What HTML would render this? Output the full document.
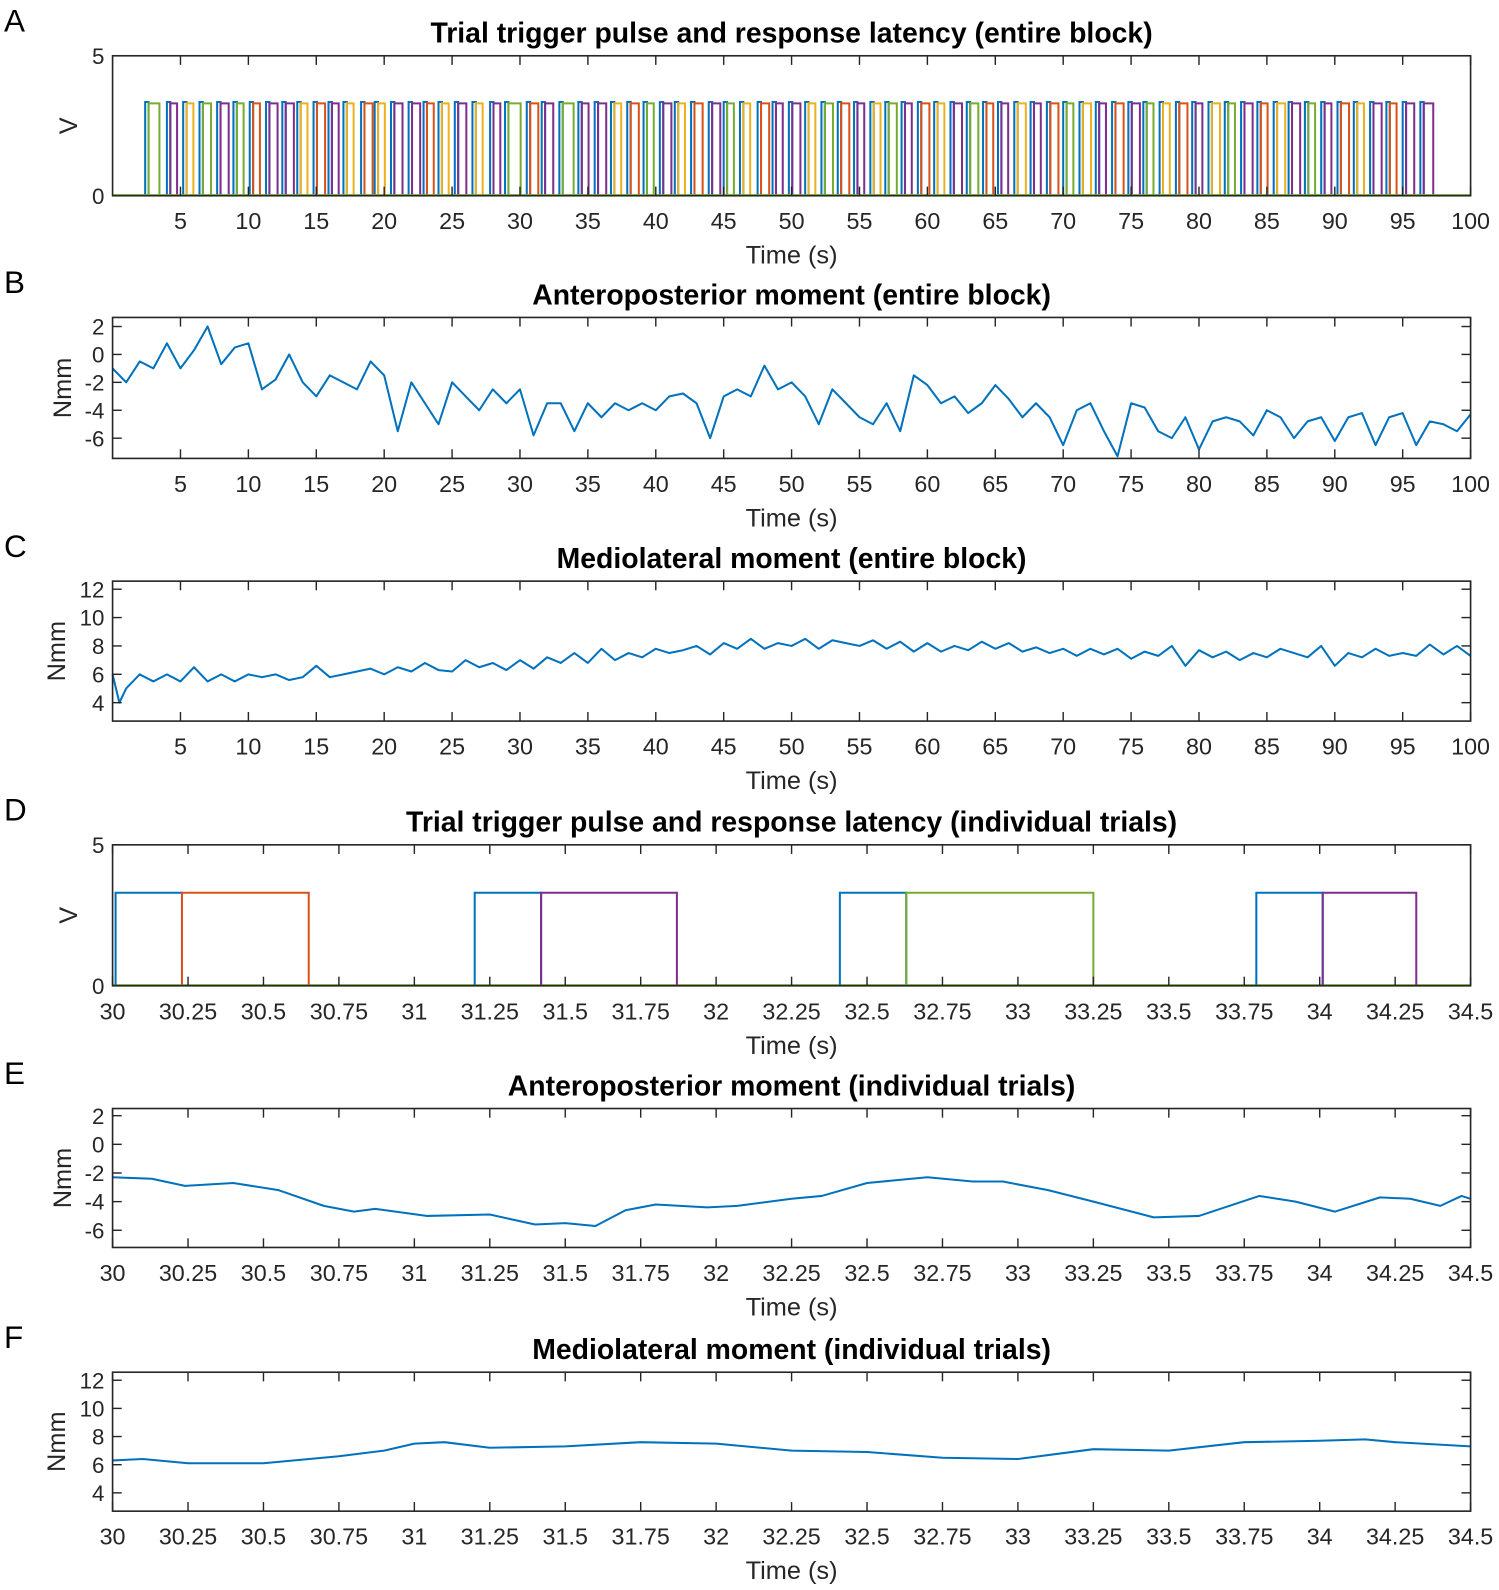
<!DOCTYPE html>
<html><head><meta charset="utf-8"><style>
body{margin:0;background:#fff;}
svg{display:block;font-family:"Liberation Sans",Arial,sans-serif;}
</style></head><body>
<svg id="fig" width="1499" height="1590" viewBox="0 0 1499 1590"></svg>
<script>
// ---- data ----
const trialOnsetsA = [2.4,4.0,5.2,6.4,7.7,8.9,10.1,11.3,12.5,13.6,14.8,15.9,17.0,18.3,19.3,20.5,21.8,22.9,24.0,25.2,26.5,27.8,28.9,30.5,31.6,32.9,34.3,35.5,36.7,37.9,39.1,40.3,41.4,42.6,43.9,45.0,46.2,47.5,48.6,49.8,51.0,52.2,53.4,54.6,55.8,56.9,58.1,59.3,60.5,61.7,62.9,64.1,65.2,66.4,67.6,68.8,70.0,71.2,72.4,73.6,74.8,75.9,77.1,78.3,79.5,80.7,81.9,83.1,84.3,85.5,86.6,87.8,89.0,90.2,91.4,92.6,93.8,95.0,96.3];
const responseDurA = [0.8,0.5,0.5,0.6,0.6,0.5,0.5,0.6,0.6,0.5,0.6,0.5,0.5,0.6,0.5,0.6,0.6,0.5,0.5,0.6,0.5,0.5,0.9,0.6,0.6,0.8,0.5,0.6,0.5,0.6,0.5,0.6,0.5,0.6,0.6,0.5,0.5,0.6,0.5,0.6,0.5,0.6,0.6,0.5,0.5,0.6,0.5,0.6,0.5,0.6,0.6,0.5,0.5,0.6,0.5,0.6,0.5,0.6,0.5,0.6,0.6,0.5,0.5,0.6,0.5,0.6,0.5,0.6,0.5,0.6,0.6,0.5,0.5,0.6,0.5,0.6,0.5,0.6,0.7];
const responseTypeA = ["g","p","y","g","p","g","o","p","p","y","o","p","y","o","y","p","p","o","y","p","y","p","g","o","p","g","p","p","y","o","g","p","y","o","p","g","y","o","p","p","y","g","o","p","y","g","p","o","y","p","g","o","p","y","p","o","g","y","p","o","p","g","y","o","p","y","g","p","o","y","p","g","p","o","y","p","o","p","p"];

const apTime = [0,1,2,3,4,5,6,7,8,9,10,11,12,13,14,15,16,17,18,19,20,21,22,23,24,25,26,27,28,29,30,31,32,33,34,35,36,37,38,39,40,41,42,43,44,45,46,47,48,49,50,51,52,53,54,55,56,57,58,59,60,61,62,63,64,65,66,67,68,69,70,71,72,73,74,75,76,77,78,79,80,81,82,83,84,85,86,87,88,89,90,91,92,93,94,95,96,97,98,99,100];
const apValues = [-1,-2,-0.5,-1,0.8,-1,0.3,2,-0.7,0.5,0.8,-2.5,-1.8,0,-2,-3,-1.5,-2,-2.5,-0.5,-1.5,-5.5,-2,-3.5,-5,-2,-3,-4,-2.5,-3.5,-2.5,-5.8,-3.5,-3.5,-5.5,-3.5,-4.5,-3.5,-4,-3.5,-4,-3,-2.8,-3.5,-6,-3,-2.5,-3,-0.8,-2.5,-2,-3,-5,-2.5,-3.5,-4.5,-5,-3.5,-5.5,-1.5,-2.2,-3.5,-3,-4.2,-3.5,-2.2,-3.2,-4.5,-3.5,-4.5,-6.5,-4,-3.5,-5.5,-7.3,-3.5,-3.8,-5.5,-6,-4.5,-6.8,-4.8,-4.5,-4.8,-5.8,-4,-4.5,-6,-4.8,-4.5,-6.2,-4.5,-4.2,-6.5,-4.5,-4.2,-6.5,-4.8,-5,-5.5,-4.3];
const mlTime = [0,0.5,1,2,3,4,5,6,7,8,9,10,11,12,13,14,15,16,17,18,19,20,21,22,23,24,25,26,27,28,29,30,31,32,33,34,35,36,37,38,39,40,41,42,43,44,45,46,47,48,49,50,51,52,53,54,55,56,57,58,59,60,61,62,63,64,65,66,67,68,69,70,71,72,73,74,75,76,77,78,79,80,81,82,83,84,85,86,87,88,89,90,91,92,93,94,95,96,97,98,99,100];
const mlValues = [6,4,5,6,5.5,6,5.5,6.5,5.5,6,5.5,6,5.8,6,5.6,5.8,6.6,5.8,6,6.2,6.4,6,6.5,6.2,6.8,6.3,6.2,7,6.5,6.8,6.3,7,6.4,7.2,6.8,7.5,6.8,7.8,7,7.5,7.2,7.8,7.5,7.7,8,7.4,8.2,7.8,8.5,7.8,8.2,8,8.5,7.8,8.4,8.2,8,8.4,7.8,8.3,7.6,8.2,7.6,8,7.7,8.3,7.8,8.2,7.6,7.9,7.5,7.8,7.3,7.8,7.4,7.8,7.1,7.6,7.3,8,6.6,7.7,7.2,7.6,7,7.5,7.2,7.8,7.5,7.2,8,6.6,7.5,7.2,7.8,7.3,7.5,7.3,8.1,7.4,8,7.3];

const trialOnsetsD = [30.01,31.2,32.41,33.79];
const triggerEndD = [30.23,31.42,32.63,34.01];
const responseEndD = [30.65,31.87,33.25,34.32];
const responseTypeD = ["o","p","g","p"];

const apTrialTime = [30,30.13,30.24,30.4,30.55,30.7,30.8,30.87,31.04,31.25,31.4,31.5,31.6,31.7,31.8,31.97,32.07,32.25,32.35,32.5,32.7,32.85,32.95,33.1,33.25,33.45,33.6,33.8,33.92,34.05,34.2,34.3,34.4,34.47,34.5];
const apTrialValues = [-2.3,-2.4,-2.9,-2.7,-3.2,-4.3,-4.7,-4.5,-5,-4.9,-5.6,-5.5,-5.7,-4.6,-4.2,-4.4,-4.3,-3.8,-3.6,-2.7,-2.3,-2.6,-2.6,-3.2,-4,-5.1,-5,-3.6,-4,-4.7,-3.7,-3.8,-4.3,-3.6,-3.8];
const mlTrialTime = [30,30.1,30.25,30.5,30.75,30.9,31,31.1,31.25,31.5,31.75,32,32.25,32.5,32.75,33,33.25,33.5,33.75,34,34.15,34.25,34.5];
const mlTrialValues = [6.3,6.4,6.1,6.1,6.6,7,7.5,7.6,7.2,7.3,7.6,7.5,7,6.9,6.5,6.4,7.1,7,7.6,7.7,7.8,7.6,7.3];

const colorMap = {b:"#0072BD",o:"#D95319",y:"#EDB120",p:"#7E2F8E",g:"#77AC30"};
const blockTicks = [5,10,15,20,25,30,35,40,45,50,55,60,65,70,75,80,85,90,95,100];
const trialTicks = [30,30.25,30.5,30.75,31,31.25,31.5,31.75,32,32.25,32.5,32.75,33,33.25,33.5,33.75,34,34.25,34.5];

// ---- drawing ----
const NS="http://www.w3.org/2000/svg";
const svgEl=document.getElementById('fig');
const root=document.createElementNS(NS,'g');
root.setAttribute('transform','scale(1.0142)');


svgEl.appendChild(root);
function mk(tag,attrs,parent){const e=document.createElementNS(NS,tag);for(const k in attrs)e.setAttribute(k,attrs[k]);(parent||root).appendChild(e);return e;}
const X0=111,X1=1450;

function panel(cfg){
  const g=mk('g',{});
  
  
  const sx=v=>X0+(v-cfg.xmin)/(cfg.xmax-cfg.xmin)*(X1-X0);
  const sy=v=>cfg.bottom-(v-cfg.ymin)/(cfg.ymax-cfg.ymin)*(cfg.bottom-cfg.top);
  cfg.sx=sx;cfg.sy=sy;cfg.g=g;
  const L=mk('text',{x:4,y:cfg.top-24,'font-size':31,fill:'#000'},g);
  L.textContent=cfg.letter;
  
  
  const t=mk('text',{x:(X0+X1)/2,y:cfg.top-13,'font-size':28,'font-weight':'bold','text-anchor':'middle',fill:'#000'},g);
  t.textContent=cfg.title;
  
  
  const m=mk('g',{'fill':'none','stroke-width':2},g);
  
  
  cfg.m=m;
  cfg.draw(cfg);
  cfg.xticks.forEach((v,i)=>{
    const x=sx(v);
    mk('line',{x1:x,x2:x,y1:cfg.bottom,y2:cfg.bottom-9,stroke:'#262626','stroke-width':1.4},g);
    mk('line',{x1:x,x2:x,y1:cfg.top,y2:cfg.top+9,stroke:'#262626','stroke-width':1.4},g);
    const tl=mk('text',{x:x,y:cfg.bottom+33,'font-size':23,'text-anchor':'middle',fill:'#262626'},g);
    tl.textContent=String(v);
    
    
  });
  cfg.yticks.forEach(v=>{
    const y=sy(v);
    mk('line',{x1:X0,x2:X0+9,y1:y,y2:y,stroke:'#262626','stroke-width':1.4},g);
    mk('line',{x1:X1,x2:X1-9,y1:y,y2:y,stroke:'#262626','stroke-width':1.4},g);
    const tl=mk('text',{x:X0-8,y:y+8,'font-size':22,'text-anchor':'end',fill:'#262626'},g);
    tl.textContent=String(v);
    
    
  });
  const box=mk('rect',{x:X0,y:cfg.top,width:X1-X0,height:cfg.bottom-cfg.top,fill:'none',stroke:'#262626','stroke-width':1.6},g);
  
  
  const xl=mk('text',{x:(X0+X1)/2,y:cfg.bottom+67,'font-size':25,'text-anchor':'middle',fill:'#262626'},g);
  xl.textContent='Time (s)';
  
  
  const cy=(cfg.top+cfg.bottom)/2;
  const yl=mk('text',{x:cfg.ylx,y:cy,'font-size':25,'text-anchor':'middle',fill:'#262626',transform:`rotate(-90 ${cfg.ylx} ${cy})`},g);
  yl.textContent=cfg.ylabel;
  
  
}
function line(cfg,xs,ys,color,name){
  const d=xs.map((x,i)=>(i?'L':'M')+cfg.sx(x).toFixed(1)+' '+cfg.sy(ys[i]).toFixed(1)).join(' ');
  const p=mk('path',{d:d,stroke:color,'stroke-linejoin':'round'},cfg.m);
  
  
}
function pulse(cfg,a,b,h,color,name){
  const p=mk('path',{d:`M${cfg.sx(a)} ${cfg.sy(0)} L${cfg.sx(a)} ${cfg.sy(h)} L${cfg.sx(b)} ${cfg.sy(h)} L${cfg.sx(b)} ${cfg.sy(0)}`,stroke:color},cfg.m);
  
  
}
const H=3.3;
panel({name:'panel-a-trigger-block',letter:'A',title:'Trial trigger pulse and response latency (entire block)',top:55,bottom:193,xmin:0,xmax:100,ymin:0,ymax:5,xticks:blockTicks,yticks:[0,5],ylabel:'V',ylx:76,
 draw:c=>{
  trialOnsetsA.forEach((t,i)=>{
    pulse(c,t,t+0.25,H+0.05,colorMap.b,'trigger-pulse');
    pulse(c,t+0.25,t+0.25+responseDurA[i],H,colorMap[responseTypeA[i]],'response-pulse');
  });
  line(c,[0,100],[0.02,0.02],colorMap.g,'baseline');
 }});
panel({name:'panel-b-ap-block',letter:'B',title:'Anteroposterior moment (entire block)',top:313,bottom:452,xmin:0,xmax:100,ymin:-7.45,ymax:2.65,xticks:blockTicks,yticks:[-6,-4,-2,0,2],ylabel:'Nmm',ylx:70,
 draw:c=>line(c,apTime,apValues,colorMap.b,'ap-moment-line')});
panel({name:'panel-c-ml-block',letter:'C',title:'Mediolateral moment (entire block)',top:573,bottom:711,xmin:0,xmax:100,ymin:2.7,ymax:12.57,xticks:blockTicks,yticks:[4,6,8,10,12],ylabel:'Nmm',ylx:64,
 draw:c=>line(c,mlTime,mlValues,colorMap.b,'ml-moment-line')});
panel({name:'panel-d-trigger-trials',letter:'D',title:'Trial trigger pulse and response latency (individual trials)',top:833,bottom:972,xmin:30,xmax:34.5,ymin:0,ymax:5,xticks:trialTicks,yticks:[0,5],ylabel:'V',ylx:76,
 draw:c=>{
  line(c,[30,34.5],[0.02,0.02],colorMap.g,'baseline');
  trialOnsetsD.forEach((t,i)=>{
    pulse(c,t,triggerEndD[i],H,colorMap.b,'trigger-pulse');
    pulse(c,triggerEndD[i],responseEndD[i],H,colorMap[responseTypeD[i]],'response-pulse');
  });
 }});
panel({name:'panel-e-ap-trials',letter:'E',title:'Anteroposterior moment (individual trials)',top:1093,bottom:1230,xmin:30,xmax:34.5,ymin:-7.2,ymax:2.5,xticks:trialTicks,yticks:[-6,-4,-2,0,2],ylabel:'Nmm',ylx:70,
 draw:c=>line(c,apTrialTime,apTrialValues,colorMap.b,'ap-trial-line')});
panel({name:'panel-f-ml-trials',letter:'F',title:'Mediolateral moment (individual trials)',top:1353,bottom:1490,xmin:30,xmax:34.5,ymin:2.7,ymax:12.57,xticks:trialTicks,yticks:[4,6,8,10,12],ylabel:'Nmm',ylx:64,
 draw:c=>line(c,mlTrialTime,mlTrialValues,colorMap.b,'ml-trial-line')});
</script>
</body></html>
